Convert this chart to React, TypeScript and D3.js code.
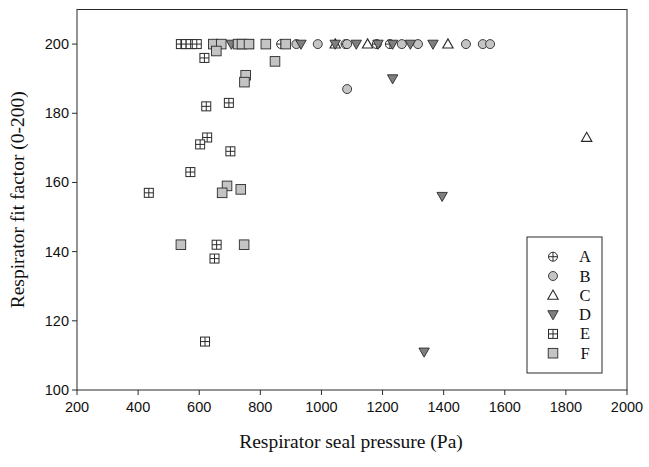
import React from "react";
import * as d3 from "d3";

const xTicks = [200, 400, 600, 800, 1000, 1200, 1400, 1600, 1800, 2000];
const yTicks = [100, 120, 140, 160, 180, 200];

const seriesA_x = [868, 1079, 1181, 1224];
const seriesA_y = [200, 200, 200, 200];

const seriesB_x = [918, 988, 1084, 1263, 1316, 1473, 1528, 1552, 1084];
const seriesB_y = [200, 200, 200, 200, 200, 200, 200, 200, 187];

const seriesC_x = [1045, 1151, 1414, 1868];
const seriesC_y = [200, 200, 200, 173];

const seriesD_x = [705, 933, 1045, 1114, 1185, 1233, 1291, 1365, 1233, 1395, 1336];
const seriesD_y = [200, 200, 200, 200, 200, 200, 200, 200, 190, 156, 111];

const seriesE_x = [540, 557, 572, 592, 617, 623, 697, 626, 603, 702, 571, 435, 657, 650, 619, 763];
const seriesE_y = [200, 200, 200, 200, 196, 182, 183, 173, 171, 169, 163, 157, 142, 138, 114, 200];

const seriesF_x = [646, 672, 727, 740, 763, 818, 883, 656, 848, 752, 748, 691, 736, 675, 540, 747];
const seriesF_y = [200, 200, 200, 200, 200, 200, 200, 198, 195, 191, 189, 159, 158, 157, 142, 142];

const legendLabels = ["A", "B", "C", "D", "E", "F"];

const W = 649, H = 467;
const left = 77, right = 627, top = 9.5, bottom = 390;

const x = d3.scaleLinear().domain([200, 2000]).range([left, right]);
const y = d3.scaleLinear().domain([100, 210]).range([bottom, top]);

const stroke = "#2a2a2a";
const lightFill = "#c4c4c4";
const darkFill = "#7f7f7f";

function Marker({ type, cx, cy }: { type: string; cx: number; cy: number }) {
  const r = 4.5;
  if (type === "A") {
    return (
      <g>
        <circle cx={cx} cy={cy} r={r} fill="white" stroke={stroke} strokeWidth={1} />
        <line x1={cx - r} x2={cx + r} y1={cy} y2={cy} stroke={stroke} strokeWidth={1} />
        <line x1={cx} x2={cx} y1={cy - r} y2={cy + r} stroke={stroke} strokeWidth={1} />
      </g>
    );
  }
  if (type === "B") {
    return <circle cx={cx} cy={cy} r={r} fill={lightFill} stroke={stroke} strokeWidth={0.9} />;
  }
  if (type === "C") {
    const s = 5.2;
    return (
      <path
        d={`M${cx},${cy - s} L${cx + s},${cy + s * 0.75} L${cx - s},${cy + s * 0.75} Z`}
        fill="white"
        stroke={stroke}
        strokeWidth={1.1}
      />
    );
  }
  if (type === "D") {
    const s = 5.2;
    return (
      <path
        d={`M${cx},${cy + s} L${cx + s},${cy - s * 0.75} L${cx - s},${cy - s * 0.75} Z`}
        fill={darkFill}
        stroke={stroke}
        strokeWidth={0.9}
      />
    );
  }
  if (type === "E") {
    const s = 4.5;
    return (
      <g>
        <rect x={cx - s} y={cy - s} width={2 * s} height={2 * s} fill="white" stroke={stroke} strokeWidth={1} />
        <line x1={cx - s} x2={cx + s} y1={cy} y2={cy} stroke={stroke} strokeWidth={1} />
        <line x1={cx} x2={cx} y1={cy - s} y2={cy + s} stroke={stroke} strokeWidth={1} />
      </g>
    );
  }
  const s = 4.8;
  return <rect x={cx - s} y={cy - s} width={2 * s} height={2 * s} fill={lightFill} stroke={stroke} strokeWidth={0.9} />;
}

const series = [
  { key: "A", xs: seriesA_x, ys: seriesA_y },
  { key: "B", xs: seriesB_x, ys: seriesB_y },
  { key: "C", xs: seriesC_x, ys: seriesC_y },
  { key: "D", xs: seriesD_x, ys: seriesD_y },
  { key: "E", xs: seriesE_x, ys: seriesE_y },
  { key: "F", xs: seriesF_x, ys: seriesF_y },
];

export default function App() {
  const tickFont = "'Liberation Sans', Arial, sans-serif";
  const serif = "'Liberation Serif', 'Times New Roman', serif";
  const legX = 527, legY = 237, legW = 75, legH = 136;
  return (
    <svg width={W} height={H} style={{ position: "absolute", left: 0, top: 0, background: "white" }}>
      <rect x={0} y={0} width={W} height={H} fill="white" />
      <rect x={left} y={top} width={right - left} height={bottom - top} fill="none" stroke={stroke} strokeWidth={1} />
      {xTicks.map((t) => (
        <g key={"xt" + t}>
          <line x1={x(t)} x2={x(t)} y1={bottom} y2={bottom + 5} stroke={stroke} strokeWidth={1} />
          <text x={x(t)} y={bottom + 22} textAnchor="middle" fontFamily={tickFont} fontSize={14.5} fill="#111">
            {t}
          </text>
        </g>
      ))}
      {yTicks.map((t) => (
        <g key={"yt" + t}>
          <line x1={left - 5} x2={left} y1={y(t)} y2={y(t)} stroke={stroke} strokeWidth={1} />
          <text x={left - 8} y={y(t) + 5} textAnchor="end" fontFamily={tickFont} fontSize={14.5} fill="#111">
            {t}
          </text>
        </g>
      ))}
      <text x={351} y={448} textAnchor="middle" fontFamily={serif} fontSize={19.5} fill="#111">
        Respirator seal pressure (Pa)
      </text>
      <text
        transform={`translate(24,${(top + bottom) / 2}) rotate(-90)`}
        textAnchor="middle"
        fontFamily={serif}
        fontSize={19.5}
        fill="#111"
      >
        Respirator fit factor (0-200)
      </text>
      {series.map((s) =>
        s.xs.map((xv, i) => <Marker key={s.key + i} type={s.key} cx={x(xv)} cy={y(s.ys[i])} />)
      )}
      <rect x={legX} y={legY} width={legW} height={legH} fill="white" stroke={stroke} strokeWidth={1} />
      {legendLabels.map((l, i) => {
        const cy = 256.7 + i * 19.3;
        return (
          <g key={"leg" + l}>
            <Marker type={l} cx={553} cy={cy} />
            <text x={585} y={cy + 5.5} textAnchor="middle" fontFamily={serif} fontSize={16.5} fill="#111">
              {l}
            </text>
          </g>
        );
      })}
    </svg>
  );
}
